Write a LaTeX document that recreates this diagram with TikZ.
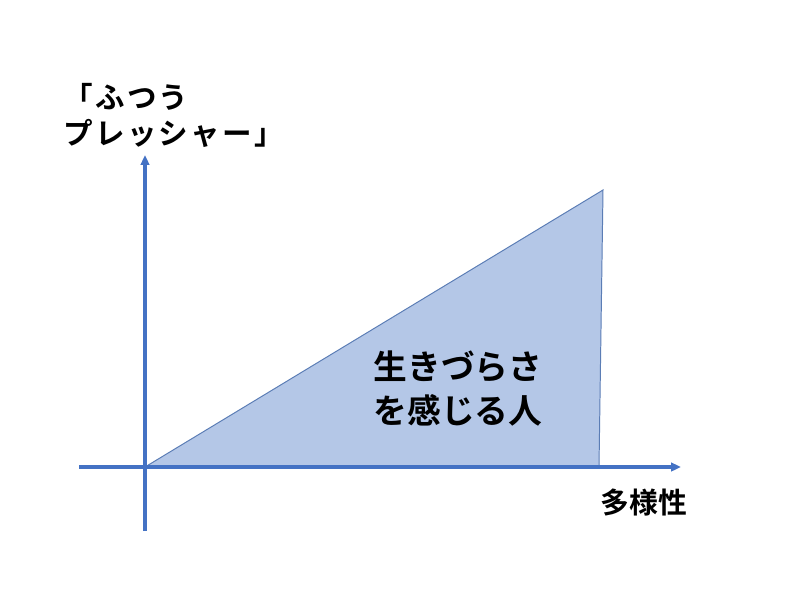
\documentclass[tikz,border=0pt]{standalone}
\usepackage{fontspec}
\newfontfamily\jpfont{Noto Sans CJK JP}[BoldFont={Noto Sans CJK JP Bold}]
\newfontfamily\jpwide{Noto Sans CJK JP Bold}[LetterSpace=8]
\usetikzlibrary{arrows.meta}
\definecolor{axisblue}{HTML}{4472C4}
\definecolor{areafill}{HTML}{B4C7E7}
\definecolor{areaedge}{HTML}{5B7DB5}

\begin{document}
\begin{tikzpicture}[x=0.025cm,y=-0.025cm,
                    axis line/.style={draw=axisblue,line width=2.2pt,-{Triangle[length=7pt,width=6pt]}},
                    label text/.style={font=\jpfont\bfseries,text=black,inner sep=0pt}]
                    \useasboundingbox (0,0) rectangle (800,600);
                    \coordinate (O) at (145,467);
                    \coordinate (xstart) at (79,467);
                    \coordinate (xend) at (681,467);
                    \coordinate (ystart) at (145,531);
                    \coordinate (yend) at (145,155);
                    \coordinate (top) at (603,190);
                    \coordinate (corner) at (599,467);
                    \fill[areafill] (O) -- (top) -- (corner) -- cycle;
                    \draw[areaedge,line width=0.7pt] (O) -- (top) -- (corner);
                    \draw[axis line] (xstart) -- (xend);
                    \draw[axis line] (ystart) -- (yend);
                    \node[label text,anchor=west,align=left,font=\jpwide\fontsize{21}{25.6}\selectfont]
                        (pressure) at (63,115) {「ふつう\\プレッシャー」};
                    \node[label text,align=center,font=\jpfont\bfseries\fontsize{24}{31.3}\selectfont]
                        (hard) at (458,389) {生きづらさ\\を感じる人};
                    \node[label text,font=\jpfont\bfseries\fontsize{20.5}{24}\selectfont]
                        (diversity) at (644,503) {多様性};
                \end{tikzpicture}
\end{document}
